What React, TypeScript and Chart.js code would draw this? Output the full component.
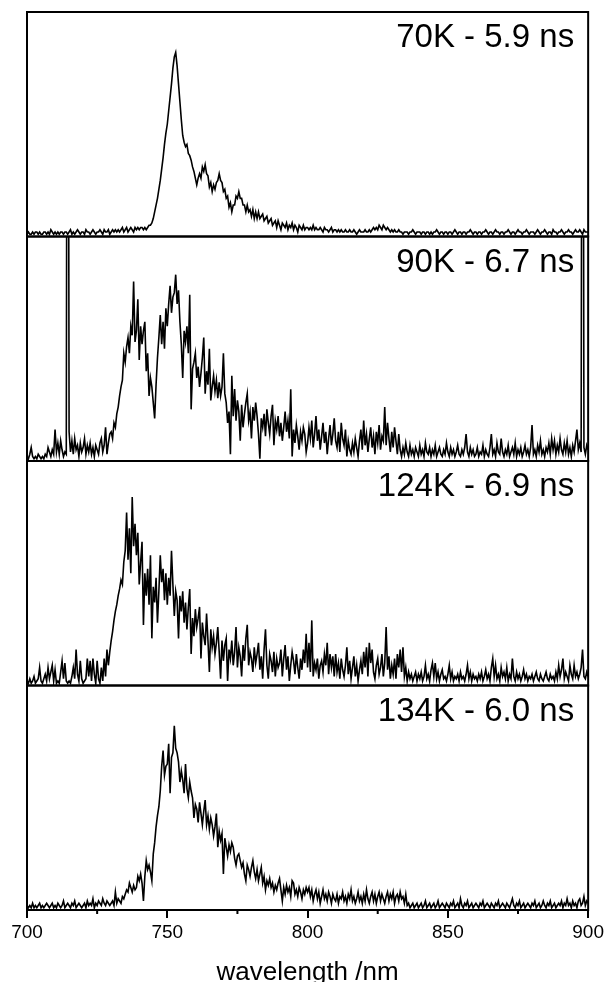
import React, { useEffect, useRef } from "react";
import { Chart, registerables } from "chart.js";

Chart.register(...registerables);

// ---- data -------------------------------------------------------------
const WL_START = 700;
const WL_STEP = 0.5;
const X_MIN = 700;
const X_MAX = 900;
const X_TICKS = [700, 750, 800, 850, 900];
const X_MINOR_TICKS = [725, 775, 825, 875];
const X_TITLE = "wavelength /nm";
const PANEL_LABELS = ["70K - 5.9 ns", "90K - 6.7 ns", "124K - 6.9 ns", "134K - 6.0 ns"];

// normalized PL intensity (% of panel height), 700 nm ... 900 nm in 0.5 nm steps
const I_70K = [
  1,2,1,1,2,1,2,2,1,2,1,1,2,2,1,2,1,3,2,1,
  2,1,2,1,2,2,1,2,2,1,2,3,1,2,1,2,3,2,1,2,
  2,1,3,2,2,1,2,3,2,1,2,2,3,2,1,3,2,2,3,1,
  2,3,2,3,2,3,2,3,4,2,3,4,2,3,4,3,2,4,3,4,
  3,4,4,3,4,3,4,5,5,6,8,11,14,17,21,25,30,35,41,46,
  50,56,62,68,75,80,82,76,68,60,52,45,42,40,41,37,36,34,31,29,
  26,23,26,28,26,31,29,32,28,27,22,24,20,23,21,24,25,28,25,24,
  20,21,17,18,13,15,11,14,14,18,17,20,17,17,14,14,11,14,11,12,
  9,12,8,11,8,11,8,9,10,7,8,9,6,7,8,5,6,7,4,7,
  5,3,6,5,4,6,3,5,4,6,3,5,4,2,5,4,3,5,3,4,
  4,3,4,3,5,3,4,3,3,4,3,2,4,3,3,2,3,4,2,3,
  3,2,3,2,3,2,2,3,2,2,3,2,2,3,2,1,2,3,2,2,
  2,3,2,2,3,2,3,4,3,4,3,5,4,3,5,4,3,4,3,2,
  3,2,3,2,2,3,2,2,1,2,2,2,1,2,2,3,2,1,2,2,
  2,1,2,2,1,2,2,1,2,1,2,2,3,2,1,2,2,1,2,2,
  1,2,2,1,2,3,2,1,2,2,1,2,2,1,2,2,3,2,1,2,
  2,1,2,2,1,2,2,3,2,1,2,2,1,2,3,2,2,1,2,2,
  1,2,2,3,2,1,2,2,1,2,3,2,2,1,2,2,3,2,1,2,
  2,2,1,2,3,2,1,2,2,3,2,1,2,2,1,3,2,2,1,2,
  2,3,2,1,2,2,3,2,2,1,2,3,2,2,3,2,1,3,2,2,
  2,
];

const I_90K = [
  2,1,3,6,2,1,2,1,3,2,1,2,1,3,2,6,4,2,5,3,
  14,4,8,3,9,5,2,4,3,400,13,4,9,3,10,5,7,2,8,4,
  6,10,3,7,4,8,3,6,2,7,5,3,8,10,4,7,15,3,8,12,
  13,10,17,15,21,24,29,33,36,48,44,51,55,48,60,56,80,53,58,72,
  45,60,52,58,62,40,48,29,37,33,26,19,34,46,55,65,52,62,50,68,
  60,70,78,66,73,75,83,70,76,62,52,37,58,53,60,48,74,23,41,44,
  48,37,42,33,39,46,55,30,40,34,50,27,33,38,31,36,28,35,29,33,
  48,30,26,17,22,3,38,20,32,18,27,22,9,25,15,21,26,30,18,22,
  10,24,18,26,20,12,1,19,15,21,11,23,17,12,20,25,7,18,14,20,
  11,17,9,15,22,13,18,10,32,2,14,8,16,11,5,13,9,15,12,4,
  8,15,10,18,6,12,20,9,14,5,11,17,8,13,3,10,16,7,12,19,
  9,6,13,4,17,10,7,14,2,9,5,3,8,4,10,6,2,9,14,5,
  18,7,12,4,10,15,6,11,3,13,8,16,5,11,9,24,7,17,10,4,
  13,6,15,9,3,12,5,2,6,3,8,4,2,7,3,5,2,6,4,2,
  7,3,5,2,8,4,3,6,2,5,3,7,2,4,6,3,2,5,3,8,
  4,2,6,3,5,2,4,7,3,2,5,3,6,12,4,2,6,3,5,2,
  3,6,2,4,3,7,2,5,3,2,6,12,3,5,2,8,4,3,10,4,
  2,5,3,7,2,4,6,3,8,2,5,3,6,2,4,7,3,5,2,6,
  16,3,5,2,7,4,9,3,5,2,6,4,8,3,10,5,9,3,7,4,
  10,5,3,8,4,9,3,6,2,7,4,9,14,5,8,4,400,6,3,7,
  5,
];

const I_124K = [
  2,1,3,1,2,4,1,2,3,8,2,1,3,5,2,8,3,6,9,2,
  7,1,2,1,6,11,3,10,2,1,2,1,4,8,3,16,5,2,11,3,
  1,2,3,12,4,11,2,12,5,1,11,3,1,8,2,12,4,16,9,15,
  20,24,29,33,36,40,43,47,45,55,60,77,56,70,50,84,62,72,58,68,
  45,55,64,27,50,40,52,36,58,21,44,37,48,28,42,58,46,52,38,50,
  36,48,40,60,45,31,42,38,21,40,33,42,28,37,25,35,43,14,30,22,
  34,26,30,35,12,28,22,18,32,20,6,25,17,22,14,19,26,15,3,20,
  11,18,21,2,16,12,20,9,15,26,8,17,13,4,18,11,21,27,9,15,
  12,6,17,10,14,19,7,13,3,16,25,9,3,14,11,6,15,4,12,8,
  10,16,4,12,18,7,13,2,9,15,11,5,14,8,3,12,7,16,10,23,
  8,19,6,29,4,10,7,12,3,9,11,6,14,9,19,5,14,8,13,4,
  14,6,10,3,12,7,4,9,17,5,11,3,8,13,4,9,2,7,11,5,
  15,8,17,4,19,10,16,6,3,9,12,5,8,14,4,10,26,7,13,3,
  9,5,12,3,14,8,16,6,17,4,8,2,6,3,5,2,4,6,2,5,
  3,6,2,4,9,3,5,2,7,10,4,10,3,6,2,5,7,3,4,2,
  5,9,3,6,2,4,3,5,2,6,3,4,2,5,9,3,6,2,5,3,
  4,2,5,3,6,2,4,7,3,5,2,8,12,4,9,3,5,2,8,4,
  6,3,8,2,5,3,12,4,2,6,3,5,2,4,7,3,5,2,4,3,
  5,2,4,6,3,2,5,3,2,4,6,3,2,5,3,4,2,6,3,9,
  4,7,12,3,6,4,2,9,5,3,9,4,6,3,5,8,16,4,3,6,
  4,
];

const I_134K = [
  2,1,2,1,3,1,2,1,2,3,1,2,1,2,3,2,1,2,3,1,
  2,1,3,2,1,2,4,1,2,3,2,1,3,2,4,1,2,3,2,1,
  2,3,1,4,2,3,2,5,1,3,2,4,3,2,5,3,2,4,3,2,
  3,4,2,8,3,5,4,3,6,5,7,9,8,12,10,8,11,9,10,15,
  13,16,12,4,15,22,18,20,17,13,25,30,37,42,46,53,64,71,60,64,
  65,74,52,68,70,82,72,70,66,57,62,58,52,65,54,50,57,53,50,41,
  47,45,39,48,43,38,44,49,38,42,36,41,38,33,37,43,28,35,31,34,
  16,32,28,24,29,26,30,28,23,20,24,25,22,19,21,16,13,20,18,15,
  19,22,17,14,18,13,16,19,12,15,9,13,11,14,10,12,8,11,9,12,
  14,9,4,10,7,11,8,10,6,13,12,7,9,6,10,8,5,9,7,10,
  8,10,6,9,4,7,9,5,8,3,6,9,5,7,4,8,6,3,7,5,
  4,7,3,6,5,8,4,6,3,7,5,9,4,6,3,5,8,4,6,3,
  7,4,9,5,3,6,8,4,7,3,6,8,4,7,5,3,6,8,4,7,
  5,8,3,6,7,4,8,5,6,3,7,2,3,1,2,3,1,2,3,1,
  2,3,1,2,4,1,2,3,1,2,3,1,2,4,1,2,3,2,1,3,
  2,1,3,2,4,1,2,3,1,5,2,1,3,2,4,1,2,3,1,2,
  3,2,1,3,2,4,1,2,3,2,1,3,2,1,3,2,4,1,2,3,
  2,1,3,2,1,3,5,2,1,3,2,4,1,2,3,1,2,3,2,1,
  3,2,4,1,2,3,1,2,4,2,1,3,2,4,1,2,3,1,2,3,
  2,4,1,3,2,5,2,3,1,4,2,3,1,4,5,2,3,6,2,4,
  3,
];

const SERIES = [I_70K, I_90K, I_124K, I_134K];
const WAVELENGTHS = Array.from({ length: I_70K.length }, (_, i) => WL_START + i * WL_STEP);

// ---- styling ----------------------------------------------------------
const FONT = '"Liberation Sans", Arial, Helvetica, sans-serif';
const PANEL_IDS = ["p1", "p2", "p3", "p4"];

const panelPlugin = {
  id: "panelPlugin",
  beforeDatasetDraw(chart: any, args: any) {
    const ys = chart.scales[args.meta.yAxisID];
    const a = chart.chartArea;
    const ctx = chart.ctx;
    ctx.save();
    ctx.beginPath();
    ctx.rect(a.left, ys.top, a.right - a.left, ys.bottom - ys.top);
    ctx.clip();
  },
  afterDatasetDraw(chart: any) {
    chart.ctx.restore();
  },
  afterDraw(chart: any) {
    const ctx = chart.ctx;
    const a = chart.chartArea;
    const xs = chart.scales.x;
    ctx.save();
    ctx.strokeStyle = "#000";
    ctx.lineWidth = 2;
    PANEL_IDS.forEach((id, i) => {
      const ys = chart.scales[id];
      ctx.strokeRect(a.left, ys.top, a.right - a.left, ys.bottom - ys.top);
      ctx.fillStyle = "#000";
      ctx.font = `33px ${FONT}`;
      ctx.textAlign = "right";
      ctx.textBaseline = "alphabetic";
      ctx.fillText(PANEL_LABELS[i], a.right - 14, ys.top + 35);
    });
    ctx.beginPath();
    X_MINOR_TICKS.forEach((v) => {
      const px = xs.getPixelForValue(v);
      ctx.moveTo(px, a.bottom);
      ctx.lineTo(px, a.bottom + 4);
    });
    ctx.stroke();
    ctx.restore();
  },
};

export default function App() {
  const ref = useRef<HTMLCanvasElement | null>(null);

  useEffect(() => {
    if (!ref.current) return;
    const datasets = SERIES.map((vals, i) => ({
      label: PANEL_LABELS[i],
      data: WAVELENGTHS.map((w, j) => ({ x: w, y: vals[j] })),
      yAxisID: PANEL_IDS[i],
      borderColor: "#000",
      borderWidth: 1.6,
      pointRadius: 0,
      tension: 0,
      fill: false,
    }));

    // stacked left scales are laid out bottom-up in definition order,
    // so define them in reverse to put the first panel on top
    const yScales: any = {};
    [...PANEL_IDS].reverse().forEach((id) => {
      yScales[id] = {
        type: "linear",
        position: "left",
        stack: "panels",
        stackWeight: 1,
        min: 0,
        max: 100,
        display: true,
        ticks: { display: false },
        grid: { display: false, drawTicks: false },
        border: { display: false },
      };
    });

    const chart = new Chart(ref.current, {
      type: "line",
      data: { datasets },
      plugins: [panelPlugin],
      options: {
        animation: false,
        responsive: false,
        maintainAspectRatio: false,
        layout: { padding: { left: 27, right: 18, top: 12, bottom: 0 } },
        plugins: { legend: { display: false }, tooltip: { enabled: false } },
        scales: {
          x: {
            type: "linear",
            min: X_MIN,
            max: X_MAX,
            afterBuildTicks: (s: any) => {
              s.ticks = X_TICKS.map((v) => ({ value: v }));
            },
            ticks: {
              color: "#000",
              font: { family: FONT, size: 19 },
              padding: 3,
              maxRotation: 0,
              callback: (v: any) => String(v),
            },
            grid: {
              display: true,
              drawOnChartArea: false,
              drawTicks: true,
              tickLength: 8,
              lineWidth: 2,
              color: "#000",
            },
            border: { display: true, color: "#000", width: 2 },
            title: {
              display: true,
              text: X_TITLE,
              color: "#000",
              font: { family: FONT, size: 26 },
              padding: { top: 10, bottom: -6 },
            },
          },
          ...yScales,
        },
      },
    });
    return () => chart.destroy();
  }, []);

  return (
    <div style={{ position: "fixed", left: 0, top: 0, width: 607, height: 982, background: "#fff" }}>
      <canvas ref={ref} width={607} height={982} style={{ display: "block" }} />
    </div>
  );
}
